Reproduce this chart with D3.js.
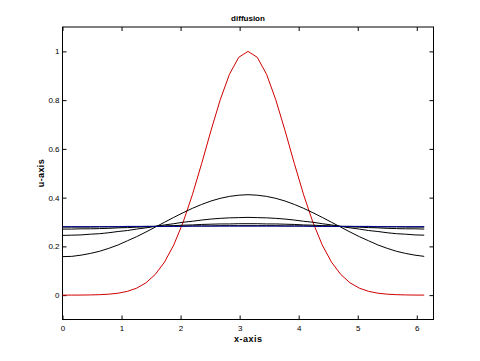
<!DOCTYPE html>
<html>
<head>
<meta charset="utf-8">
<script src="https://cdn.jsdelivr.net/npm/d3@7"></script>
<style>
  html, body { margin: 0; padding: 0; background: #fff; }
  svg { display: block; }
  text { font-family: "Liberation Sans", Arial, sans-serif; }
</style>
</head>
<body>
<svg id="chart" width="480" height="361"></svg>
<script>
// grid: 40 points, x_j = j * pi/20
const nPoints = 40;
const xValues = d3.range(nPoints).map(j => j * Math.PI / 20);

const xTicks = [0, 1, 2, 3, 4, 5, 6];
const yTicks = [0, 0.2, 0.4, 0.6, 0.8, 1];
const yTickLabels = ["0", "0.2", "0.4", "0.6", "0.8", "1"];

const uInitial = [0.0001, 0.0001, 0.0003, 0.0008, 0.0018, 0.0039, 0.0079, 0.0155, 0.0286, 0.0505,
  0.0848, 0.1355, 0.2062, 0.2985, 0.4114, 0.5396, 0.6739, 0.8009, 0.9060, 0.9756,
  1.0000, 0.9756, 0.9060, 0.8009, 0.6739, 0.5396, 0.4114, 0.2985, 0.2062, 0.1355,
  0.0848, 0.0505, 0.0286, 0.0155, 0.0079, 0.0039, 0.0018, 0.0008, 0.0003, 0.0001];

const uStep1 = [0.158, 0.159, 0.164, 0.171, 0.180, 0.192, 0.206, 0.223, 0.240, 0.259,
  0.279, 0.299, 0.319, 0.338, 0.356, 0.372, 0.386, 0.397, 0.405, 0.410,
  0.412, 0.410, 0.405, 0.397, 0.386, 0.372, 0.356, 0.338, 0.319, 0.299,
  0.279, 0.259, 0.240, 0.223, 0.206, 0.192, 0.180, 0.171, 0.164, 0.159];

const uStep2 = [0.245, 0.246, 0.247, 0.250, 0.252, 0.256, 0.261, 0.265, 0.271, 0.276,
  0.282, 0.288, 0.293, 0.299, 0.303, 0.308, 0.312, 0.315, 0.317, 0.318,
  0.319, 0.318, 0.317, 0.315, 0.312, 0.308, 0.303, 0.299, 0.293, 0.288,
  0.282, 0.276, 0.271, 0.265, 0.261, 0.256, 0.252, 0.250, 0.247, 0.246];

const uStep3 = [0.271, 0.271, 0.272, 0.272, 0.273, 0.274, 0.276, 0.277, 0.279, 0.280,
  0.282, 0.284, 0.285, 0.287, 0.288, 0.290, 0.291, 0.292, 0.292, 0.293,
  0.293, 0.293, 0.292, 0.292, 0.291, 0.290, 0.288, 0.287, 0.285, 0.284,
  0.282, 0.280, 0.279, 0.277, 0.276, 0.274, 0.273, 0.272, 0.272, 0.271];

const uStep4 = [0.279, 0.279, 0.279, 0.279, 0.280, 0.280, 0.280, 0.281, 0.281, 0.282,
  0.282, 0.282, 0.283, 0.283, 0.284, 0.284, 0.284, 0.285, 0.285, 0.285,
  0.285, 0.285, 0.285, 0.285, 0.284, 0.284, 0.284, 0.283, 0.283, 0.282,
  0.282, 0.282, 0.281, 0.281, 0.280, 0.280, 0.280, 0.279, 0.279, 0.279];

const uFinal = [0.281, 0.281, 0.281, 0.281, 0.281, 0.281, 0.281, 0.282, 0.282, 0.282,
  0.282, 0.282, 0.282, 0.282, 0.283, 0.283, 0.283, 0.283, 0.283, 0.283,
  0.283, 0.283, 0.283, 0.283, 0.283, 0.283, 0.283, 0.282, 0.282, 0.282,
  0.282, 0.282, 0.282, 0.282, 0.281, 0.281, 0.281, 0.281, 0.281, 0.281];

const series = [
  { values: uInitial, color: "#d00000" },
  { values: uStep1, color: "#000000" },
  { values: uStep2, color: "#000000" },
  { values: uStep3, color: "#000000" },
  { values: uStep4, color: "#000000" },
  { values: uFinal, color: "#00008c" }
];

const svg = d3.select("#chart");
const mLeft = 62.5, mRight = 433.5, mTop = 27, mBottom = 319.5;

const x = d3.scaleLinear().domain([0, 2 * Math.PI]).range([mLeft, mRight]);
const y = d3.scaleLinear().domain([-0.1, 1.1]).range([mBottom, mTop]);

// frame
svg.append("rect")
  .attr("x", mLeft).attr("y", mTop)
  .attr("width", mRight - mLeft).attr("height", mBottom - mTop)
  .attr("fill", "#fff").attr("stroke", "#000").attr("stroke-width", 1);

const tickLen = 4;
// axes (ticks inward)
const xAxisB = d3.axisBottom(x).tickValues(xTicks).tickSizeInner(-tickLen).tickSizeOuter(0).tickPadding(6).tickFormat(d3.format("d"));
const xAxisT = d3.axisTop(x).tickValues(xTicks).tickSizeInner(-tickLen).tickSizeOuter(0).tickFormat("");
const yAxisL = d3.axisLeft(y).tickValues(yTicks).tickSizeInner(-tickLen).tickSizeOuter(0).tickPadding(3).tickFormat((d, i) => yTickLabels[i]);
const yAxisR = d3.axisRight(y).tickValues(yTicks).tickSizeInner(-tickLen).tickSizeOuter(0).tickFormat("");

function styleAxis(g) {
  g.select(".domain").remove();
  g.selectAll("line").attr("stroke", "#000");
  g.selectAll("text").attr("fill", "#000").style("font-size", "8px")
    .style("font-family", "'Liberation Sans', Arial, sans-serif");
}

svg.append("g").attr("transform", `translate(0,${mBottom})`).call(xAxisB).call(styleAxis);
svg.append("g").attr("transform", `translate(0,${mTop})`).call(xAxisT).call(styleAxis);
svg.append("g").attr("transform", `translate(${mLeft},0)`).call(yAxisL).call(styleAxis);
svg.append("g").attr("transform", `translate(${mRight},0)`).call(yAxisR).call(styleAxis);

// lines
const line = d3.line().x((d, i) => x(xValues[i])).y(d => y(d));
svg.append("g").selectAll("path").data(series).join("path")
  .attr("d", s => line(s.values))
  .attr("fill", "none")
  .attr("stroke", s => s.color)
  .attr("stroke-width", 1);

// labels
svg.append("text").attr("x", (mLeft + mRight) / 2).attr("y", 21)
  .attr("text-anchor", "middle").style("font-size", "8px").style("font-weight", "bold")
  .text("diffusion");
svg.append("text").attr("x", (mLeft + mRight) / 2).attr("y", 341.5)
  .attr("text-anchor", "middle").style("font-size", "9px").style("font-weight", "bold")
  .attr("textLength", 28).attr("lengthAdjust", "spacing")
  .text("x-axis");
svg.append("text").attr("transform", `translate(44,${(mTop + mBottom) / 2}) rotate(-90)`)
  .attr("text-anchor", "middle").style("font-size", "9px").style("font-weight", "bold")
  .attr("textLength", 28).attr("lengthAdjust", "spacing")
  .text("u-axis");
</script>
</body>
</html>
